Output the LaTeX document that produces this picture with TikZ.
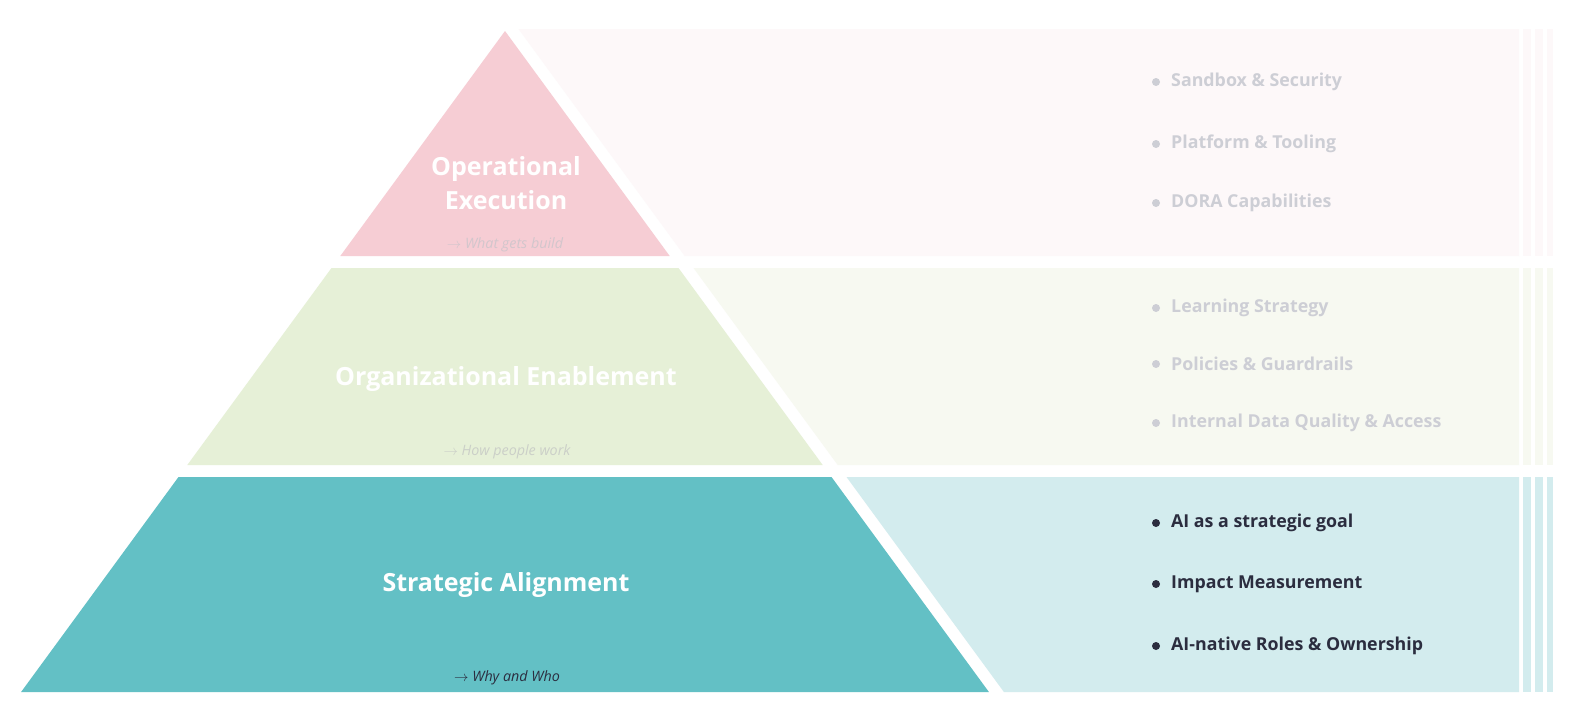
\documentclass[tikz,border=0pt]{standalone}
\usepackage{fontspec}
\setmainfont{Open Sans}
\begin{document}
\begin{tikzpicture}[x=1pt,y=-1pt,
  title/.style={font=\fontsize{25}{34}\selectfont\bfseries, text=white, align=center, inner sep=0pt},
  sub/.style={font=\fontsize{14.3}{16}\selectfont\itshape, inner sep=0pt},
  item/.style={font=\fontsize{17.8}{20}\selectfont\bfseries, anchor=west, inner sep=0pt},
  dot/.style={circle, inner sep=0pt, minimum size=8pt}]
\definecolor{pinkA}{HTML}{F6CDD4}
\definecolor{pinkB}{HTML}{FDF8F9}
\definecolor{greenA}{HTML}{E6F0D7}
\definecolor{greenB}{HTML}{F7F9F1}
\definecolor{tealA}{HTML}{63C0C5}
\definecolor{tealB}{HTML}{D3ECEE}
\definecolor{fadetext}{HTML}{CDCED5}
\definecolor{darktext}{HTML}{2B2D3F}
\definecolor{subpink}{HTML}{D2C6CC}
\definecolor{subgreen}{HTML}{CBCFC8}
\useasboundingbox[fill=white] (0,0) rectangle (1574,723);
% pyramid
\fill[pinkA] (505,31) -- (669.7,256) -- (340.3,256) -- cycle;
\fill[greenA] (331.5,268) -- (678.5,268) -- (822.7,465) -- (187.3,465) -- cycle;
\fill[tealA] (178.5,477) -- (831.5,477) -- (988.9,692) -- (21.1,692) -- cycle;
% bands
\fill[pinkB] (518.5,29) -- (1519,29) -- (1519,256) -- (684.7,256) -- cycle;
\fill[greenB] (693.5,268) -- (1519,268) -- (1519,465) -- (837.7,465) -- cycle;
\fill[tealB] (846.5,477) -- (1519,477) -- (1519,692) -- (1003.9,692) -- cycle;
\foreach \a/\b in {1523/1531,1535/1543,1547/1553}{
  \fill[pinkB] (\a,29) rectangle (\b,256);
  \fill[greenB] (\a,268) rectangle (\b,465);
  \fill[tealB] (\a,477) rectangle (\b,692);
}
% titles
\node[title] (t1) at (506,183) {Operational\\Execution};
\node[title] (t2) at (506,379) {Organizational Enablement};
\node[title] (t3) at (506,585) {Strategic Alignment};
\node[sub, text=subpink] (s1) at (505,245) {$\rightarrow$ What gets build};
\node[sub, text=subgreen] (s2) at (507,452) {$\rightarrow$ How people work};
\node[sub, text=darktext] (s3) at (507,678) {$\rightarrow$ Why and Who};
% bullets
\foreach \y/\t [count=\i] in {82/Sandbox \& Security,144/Platform \& Tooling,203/DORA Capabilities,308/Learning Strategy,364/Policies \& Guardrails,423/Internal Data Quality \& Access}{
  \node[dot, fill=fadetext] (d\i) at (1156,\y) {};
  \node[item, text=fadetext] (b\i) at (1171,\y) {\t};
}
\foreach \y/\t [count=\i from 7] in {523/AI as a strategic goal,584/Impact Measurement,646/AI-native Roles \& Ownership}{
  \node[dot, fill=darktext] (d\i) at (1156,\y) {};
  \node[item, text=darktext] (b\i) at (1171,\y) {\t};
}
\end{tikzpicture}
\end{document}
